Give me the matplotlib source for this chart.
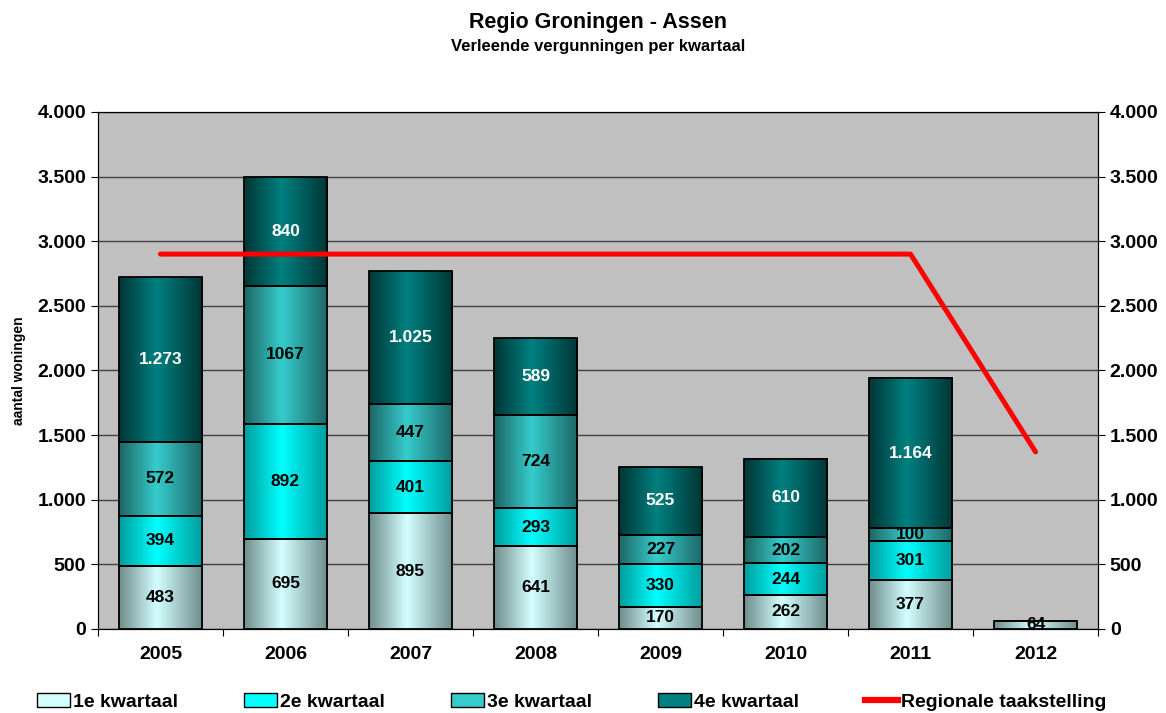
import numpy as np
import matplotlib.pyplot as plt
from matplotlib.colors import LinearSegmentedColormap
from matplotlib.patches import Patch
from matplotlib.lines import Line2D
from matplotlib.ticker import FuncFormatter

plt.rcParams['font.family'] = ['Liberation Sans', 'DejaVu Sans']
plt.rcParams['font.weight'] = 'bold'

# data
jaren = ['2005', '2006', '2007', '2008', '2009', '2010', '2011', '2012']
kw1 = [483, 695, 895, 641, 170, 262, 377, 64]
kw2 = [394, 892, 401, 293, 330, 244, 301, 0]
kw3 = [572, 1067, 447, 724, 227, 202, 100, 0]
kw4 = [1273, 840, 1025, 589, 525, 610, 1164, 0]
lab1 = ['483', '695', '895', '641', '170', '262', '377', '64']
lab2 = ['394', '892', '401', '293', '330', '244', '301', '']
lab3 = ['572', '1067', '447', '724', '227', '202', '100', '']
lab4 = ['1.273', '840', '1.025', '589', '525', '610', '1.164', '']
taakstelling = [2900, 2900, 2900, 2900, 2900, 2900, 2900, 1370]

series = [kw1, kw2, kw3, kw4]
labels = [lab1, lab2, lab3, lab4]
namen = ['1e kwartaal', '2e kwartaal', '3e kwartaal', '4e kwartaal']
# (rand, midden) kleuren voor de verloop-vulling
kleuren = [('#6f8c8c', '#d4ffff'),
           ('#009c9c', '#00ffff'),
           ('#1d6666', '#36cccc'),
           ('#003535', '#008080')]
tekstkleur = ['black', 'black', 'black', 'white']

fig = plt.figure(figsize=(11.66, 7.13), dpi=100)
ax = fig.add_axes([0.084, 0.118, 0.8577, 0.725])
ax.set_facecolor('#c0c0c0')

x = np.arange(len(jaren))
breedte = 0.67
grad = np.linspace(0, 1, 256).reshape(1, -1)

onder = np.zeros(len(jaren))
for waarden, lab, (rand, mid), tk in zip(series, labels, kleuren, tekstkleur):
    cmap = LinearSegmentedColormap.from_list('g', [(0, rand), (0.45, mid), (1, rand)])
    bars = ax.bar(x, waarden, breedte, bottom=onder, facecolor='none',
                  edgecolor='black', linewidth=1.3, zorder=3)
    for rect, t in zip(bars, lab):
        if rect.get_height() == 0:
            continue
        x0, y0 = rect.get_x(), rect.get_y()
        w, h = rect.get_width(), rect.get_height()
        ax.imshow(grad, cmap=cmap, extent=[x0, x0 + w, y0, y0 + h],
                  aspect='auto', zorder=2, interpolation='bicubic')
        ax.text(x0 + w / 2, y0 + h / 2, t, ha='center', va='center',
                color=tk, fontsize=12.5, fontweight='bold', zorder=5)
    onder = onder + np.array(waarden)

ax.plot(x, taakstelling, color='#ff0000', linewidth=3.6, zorder=4,
        solid_capstyle='round')

ax.set_xlim(-0.5, len(jaren) - 0.5)
ax.set_ylim(0, 4000)
ax.set_yticks(np.arange(0, 4001, 500))
fmt = FuncFormatter(lambda v, p: f'{int(v):,}'.replace(',', '.'))
ax.yaxis.set_major_formatter(fmt)
ax.grid(axis='y', color='#404040', linewidth=1, zorder=1)
ax.set_axisbelow(True)

ax.set_xticks(np.arange(-0.5, len(jaren), 1))
ax.set_xticklabels([])
ax.set_xticks(x, minor=True)
ax.set_xticklabels(jaren, minor=True, fontsize=14, fontweight='bold')
ax.tick_params(axis='x', which='minor', length=0, pad=12)
ax.tick_params(axis='x', which='major', length=5, direction='out')
ax.tick_params(axis='y', labelsize=14, length=5, direction='out')
for s in ax.spines.values():
    s.set_color('black')

ax2 = ax.twinx()
ax2.set_ylim(0, 4000)
ax2.set_yticks(np.arange(0, 4001, 500))
ax2.yaxis.set_major_formatter(fmt)
ax2.tick_params(axis='y', labelsize=14, length=5, direction='out')

ax.set_ylabel('aantal woningen', fontsize=10, fontweight='bold', labelpad=8)

fig.text(0.513, 0.969, 'Regio Groningen - Assen', ha='center', va='center',
         fontsize=15.5, fontweight='bold')
fig.text(0.513, 0.935, 'Verleende vergunningen per kwartaal', ha='center',
         va='center', fontsize=12, fontweight='bold')

handles = [Patch(facecolor=mid, edgecolor='black', linewidth=1)
           for rand, mid in kleuren]
handles.append(Line2D([0], [0], color='#ff0000', linewidth=4.5))
fig.legend(handles, namen + ['Regionale taakstelling'], loc='center',
           bbox_to_anchor=(0.49, 0.016), ncol=5, frameon=False,
           prop={'size': 14, 'weight': 'bold'}, handlelength=1.7,
           handleheight=0.75, handletextpad=0.15, columnspacing=3.4)

fig.savefig('out.png', dpi=100)
